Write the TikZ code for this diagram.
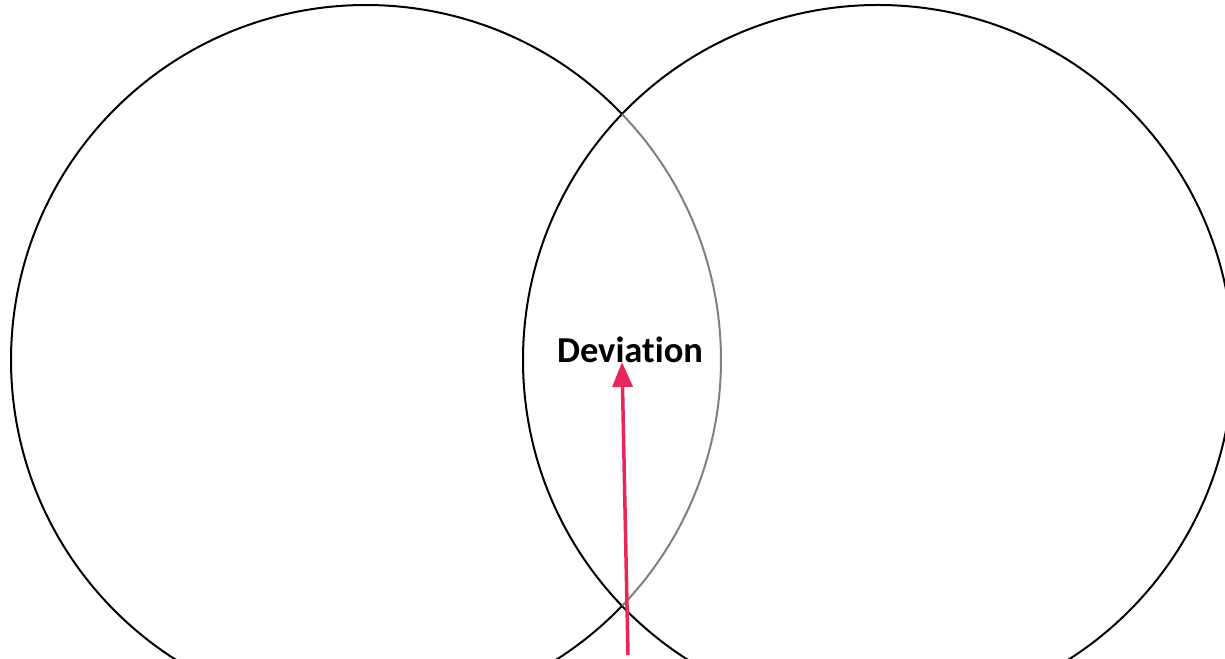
\documentclass[tikz,border=0pt]{standalone}
\usepackage{fontspec}
\setmainfont{Carlito}[Ligatures=NoCommon]
\usetikzlibrary{arrows.meta,calc}
\tikzset{
  ring/.style={draw=black, line width=2pt},
  innerarc/.style={draw=gray, line width=2pt},
  pointer/.style={draw={rgb,255:red,232;green,38;blue,90}, line width=3.5pt, -{Triangle[length=25pt,width=20pt]}},
  lbl/.style={font=\fontsize{36.5}{40}\selectfont\bfseries, inner sep=0pt, anchor=base}
}
\begin{document}
\begin{tikzpicture}[x=1pt,y=1pt]
\useasboundingbox (0,0) rectangle (1225,658);
\clip (0,0) rectangle (1225,658);
\coordinate (cl) at (366,298);
\coordinate (cr) at (878,298);
% right circle
\draw[ring] (cr) circle[radius=355];
% left circle: outer part black, inner part gray
\draw[ring] ($(cl)+(43.85:355)$) arc[start angle=43.85, end angle=316.15, radius=355];
\draw[innerarc] ($(cl)+(-43.85:355)$) arc[start angle=-43.85, end angle=43.85, radius=355];
\node[lbl] (dev) at (630,295) {Deviation};
\coordinate (tail) at (628,3);
\coordinate (tip) at (622,296);
\draw[pointer] (tail) -- (tip);
\end{tikzpicture}
\end{document}
